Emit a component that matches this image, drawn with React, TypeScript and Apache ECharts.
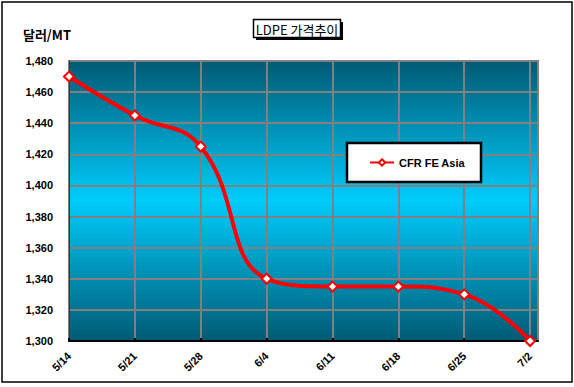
import React, { useEffect, useRef } from "react";
import * as echarts from "echarts";

const categories = ["5/14", "5/21", "5/28", "6/4", "6/11", "6/18", "6/25", "7/2"];
const prices = [1470, 1445, 1425, 1340, 1335, 1335, 1330, 1300];
const seriesName = "CFR FE Asia";
const titleText = "LDPE 가격추이";
const unitText = "달러/MT";
const yMin = 1300;
const yMax = 1480;
const yStep = 20;

export default function App() {
  const ref = useRef<HTMLDivElement>(null);
  useEffect(() => {
    document.body.style.margin = "0";
    const chart = echarts.init(ref.current!, null, { renderer: "svg" });
    const font = "'Liberation Sans', Arial, sans-serif";
    const bg = new echarts.graphic.LinearGradient(0, 0, 0, 1, [
      { offset: 0, color: "#005a74" },
      { offset: 0.5, color: "#00ccfc" },
      { offset: 1, color: "#005a74" },
    ]);
    chart.setOption({
      animation: false,
      backgroundColor: "#ffffff",
      grid: {
        left: 69,
        right: 36,
        top: 61,
        bottom: 46,
        show: true,
        backgroundColor: bg,
        borderColor: "#808080",
        borderWidth: 2,
      },
      legend: {
        left: 347,
        top: 143,
        orient: "horizontal",
        data: [seriesName],
        backgroundColor: "#ffffff",
        borderColor: "#000000",
        borderWidth: 2.5,
        padding: [14, 16, 14, 22],
        itemWidth: 24,
        itemHeight: 8,
        itemGap: 4,
        textStyle: { fontFamily: font, fontWeight: "bold", fontSize: 11, color: "#000" },
      },
      xAxis: {
        type: "value",
        min: 0,
        max: 7.12,
        interval: 1,
        axisLine: { show: true, lineStyle: { color: "#000", width: 2 } },
        axisTick: { show: true, inside: true, length: 3, lineStyle: { color: "#000", width: 2 } },
        splitLine: { show: true, lineStyle: { color: "#808080", width: 2 } },
        axisLabel: {
          rotate: 45,
          margin: 13,
          fontFamily: font,
          fontWeight: "bold",
          fontSize: 11,
          color: "#000",
          showMaxLabel: false,
          formatter: (v: number) => (Number.isInteger(v) ? categories[v] ?? "" : ""),
        },
      },
      yAxis: {
        type: "value",
        min: yMin,
        max: yMax,
        interval: yStep,
        axisLine: { show: true, lineStyle: { color: "#2a3a40", width: 1 } },
        axisTick: { show: false },
        splitLine: { show: true, lineStyle: { color: "#808080", width: 2 } },
        axisLabel: {
          margin: 16,
          fontFamily: font,
          fontWeight: "bold",
          fontSize: 11,
          color: "#000",
          formatter: (v: number) => v.toLocaleString("en-US"),
        },
      },
      series: [
        {
          name: seriesName,
          type: "line",
          data: prices.map((p, i) => [i, p]),
          smooth: 0.45,
          symbol: "diamond",
          symbolSize: 10,
          itemStyle: { color: "#ffffff", borderColor: "#ff0000", borderWidth: 2 },
          lineStyle: { color: "#ff0000", width: 4 },
        },
      ],
      graphic: [
        {
          type: "rect",
          shape: { x: 2, y: 2, width: 570, height: 380 },
          style: { fill: "none", stroke: "#000", lineWidth: 1.5 },
          silent: true,
          z: 100,
        },
        {
          type: "rect",
          shape: { x: 256, y: 22, width: 87, height: 18 },
          style: { fill: "#000" },
          z: 100,
        },
        {
          type: "rect",
          shape: { x: 253.5, y: 19.5, width: 87, height: 18 },
          style: { fill: "#fff", stroke: "#000", lineWidth: 1.5 },
          z: 101,
        },
        {
          type: "text",
          x: 297,
          y: 29,
          style: {
            text: titleText,
            fontFamily: "'Noto Sans CJK KR', sans-serif",
            fontSize: 13,
            fill: "#000",
            align: "center",
            verticalAlign: "middle",
          },
          z: 102,
        },
        {
          type: "text",
          x: 47,
          y: 34,
          style: {
            text: unitText,
            fontFamily: "'Noto Sans CJK KR', sans-serif",
            fontWeight: "bold",
            fontSize: 13,
            fill: "#000",
            align: "center",
            verticalAlign: "middle",
          },
          z: 102,
        },
      ],
    });
    return () => chart.dispose();
  }, []);
  return <div ref={ref} style={{ width: 574, height: 387 }} />;
}
